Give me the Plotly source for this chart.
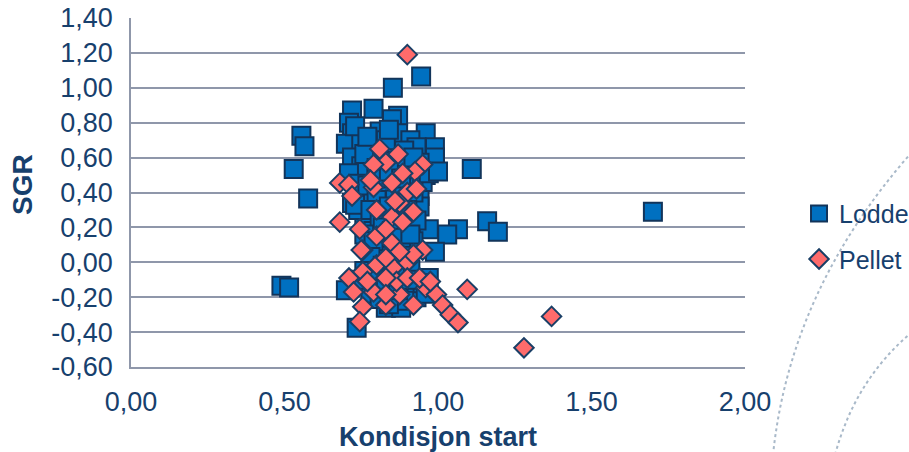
import plotly.graph_objects as go

# Lodde (blue squares)
lodde_x = [0.49, 0.515, 0.53, 0.555, 0.565, 0.577, 0.70, 0.735, 0.853, 0.945, 1.11, 1.16, 1.195, 1.065, 1.03, 1.70, 0.96, 0.99,
           0.72, 0.79, 0.87, 0.85, 0.71, 0.72, 0.81, 0.87, 0.91, 0.70, 0.75, 0.93, 0.99, 0.99, 0.72, 0.75, 0.85, 0.94, 0.71,
           0.78, 0.83, 0.89, 0.76, 0.82, 0.88, 0.96, 0.73, 0.77, 0.84, 0.92, 0.80, 0.86, 0.74,
           0.72, 0.97, 0.94, 0.81, 0.87, 0.94, 0.95, 0.97, 1.00, 0.78, 0.82, 0.88, 0.90, 0.76, 0.84, 0.79, 0.92, 0.86, 0.74, 0.73,
           0.77, 0.80, 0.83, 0.86, 0.89, 0.92, 0.78, 0.81, 0.84, 0.87, 0.90, 0.93, 0.76, 0.79, 0.82, 0.85, 0.88, 0.91, 0.80, 0.84, 0.88,
           0.83, 0.88, 0.97, 0.78, 0.99, 0.76, 0.80, 0.85, 0.90, 0.93, 0.87, 0.82, 0.95, 0.78, 0.89, 0.84, 0.74, 0.91, 0.96,
           0.79, 0.83, 0.87, 0.91, 0.81, 0.86]
lodde_y = [-0.135, -0.145, 0.535, 0.725, 0.665, 0.365, -0.16, -0.375, 1.00, 1.065, 0.535, 0.235, 0.175, 0.19, 0.16, 0.29, 0.74, 0.66,
           0.87, 0.88, 0.84, 0.82, 0.80, 0.74, 0.75, 0.74, 0.70, 0.68, 0.70, 0.66, 0.55, 0.60, 0.60, 0.55, 0.60, 0.57, 0.51,
           0.66, 0.70, 0.64, 0.62, 0.58, 0.55, 0.50, 0.78, 0.72, 0.76, 0.60, 0.54, 0.50, 0.45,
           0.34, 0.19, 0.38, 0.09, 0.09, 0.32, 0.46, 0.51, 0.52, 0.40, 0.35, 0.28, 0.20, 0.25, 0.14, 0.18, 0.12, 0.42, 0.30, 0.33,
           0.44, 0.38, 0.46, 0.36, 0.44, 0.40, 0.30, 0.26, 0.32, 0.22, 0.30, 0.24, 0.16, 0.12, 0.20, 0.18, 0.14, 0.16, 0.48, 0.52, 0.48,
           -0.26, -0.26, -0.09, 0.03, 0.06, -0.05, -0.12, -0.18, -0.15, -0.20, -0.08, -0.02, -0.12, -0.18, -0.22, -0.24, -0.10, -0.04, -0.18,
           -0.08, -0.14, -0.16, -0.10, -0.21, -0.06]

# Pellet (salmon diamonds)
pellet_x = [0.90, 0.81, 0.87, 0.83, 0.79, 0.95, 0.925, 0.885, 0.68, 0.71, 0.79, 0.85, 0.90, 0.80, 0.68, 0.745, 0.80, 0.85,
            0.885, 0.92, 0.875, 0.83, 0.755, 0.95, 0.85, 0.72, 0.75, 0.71, 0.755, 0.80, 0.855, 0.90, 0.92, 0.725, 0.755, 0.745,
            0.83, 0.79, 0.875, 0.92, 0.96, 0.995, 1.015, 1.04, 1.065, 1.095, 0.865, 0.83, 0.90, 0.94, 0.975, 0.77, 0.83,
            0.875, 0.83, 1.28, 1.37, 0.78, 0.93, 0.86]
pellet_y = [1.19, 0.65, 0.62, 0.57, 0.56, 0.56, 0.52, 0.51, 0.455, 0.445, 0.43, 0.455, 0.40, 0.30, 0.23, 0.19, 0.15, 0.26,
            0.23, 0.29, 0.34, 0.19, 0.07, 0.07, 0.11, 0.38, 0.07, -0.09, -0.055, -0.015, -0.03, 0.0, 0.045, -0.17, -0.255, -0.34,
            -0.245, -0.17, -0.185, -0.245, -0.145, -0.185, -0.245, -0.30, -0.345, -0.155, -0.11, -0.09, -0.09, -0.09, -0.11, -0.11, -0.185,
            0.06, 0.025, -0.49, -0.31, 0.47, 0.42, 0.35]

x_ticks = [0, 0.5, 1.0, 1.5, 2.0]
y_ticks = [-0.6, -0.4, -0.2, 0, 0.2, 0.4, 0.6, 0.8, 1.0, 1.2, 1.4]


def fmt(v):
    return f"{v:.2f}".replace(".", ",")


TXT = "#17406D"
GRID = "#8F97AA"
FONT = "Liberation Sans, Arial, sans-serif"

fig = go.Figure()
fig.add_trace(go.Scatter(
    x=lodde_x, y=lodde_y, mode="markers", name="Lodde", legendgroup="a",
    marker=dict(symbol="square", size=18, color="#0070C0", line=dict(color="#12345A", width=2)),
))
fig.add_trace(go.Scatter(
    x=pellet_x, y=pellet_y, mode="markers", name="Pellet", legendgroup="b",
    marker=dict(symbol="diamond", size=15, color="#FF6B6B", line=dict(color="#1A3F66", width=2)),
))

L, R, T, B = 131, 164, 18, 85
W, H = 909, 452
pw, ph = W - L - R, H - T - B


def px(x, y):
    return (x - L) / pw, (H - B - y) / ph


def arc(p0, c, p1):
    a, b, d = px(*p0), px(*c), px(*p1)
    return f"M {a[0]},{a[1]} Q {b[0]},{b[1]} {d[0]},{d[1]}"


for path in [arc((912, 152), (790, 290), (773, 455)), arc((912, 332), (855, 380), (835, 455))]:
    fig.add_shape(type="path", path=path, xref="paper", yref="paper",
                  line=dict(color="#A9B9C9", width=2, dash="dot"), layer="below")

sx, sy = px(22, 185)
fig.add_annotation(text="<b>SGR</b>", x=sx, y=sy, xref="paper", yref="paper", textangle=-90,
                   showarrow=False, xanchor="center", yanchor="middle", font=dict(size=28, color=TXT))

fig.update_layout(
    width=W, height=H,
    margin=dict(l=L, r=R, t=T, b=B, autoexpand=False),
    paper_bgcolor="white", plot_bgcolor="white",
    font=dict(family=FONT, color=TXT, size=26),
    showlegend=True,
    legend=dict(x=1.088, y=0.505, xanchor="left", yanchor="top", font=dict(size=25, color=TXT),
                tracegroupgap=10, bgcolor="rgba(0,0,0,0)", itemwidth=30),
    xaxis=dict(range=[0, 2], tickvals=x_ticks, ticktext=[fmt(v) for v in x_ticks], showgrid=False, zeroline=False,
               showline=True, linecolor=GRID, linewidth=1.5, automargin=False,
               ticks="outside", ticklen=10, tickcolor="rgba(0,0,0,0)", tickfont=dict(size=27),
               title=dict(text="<b>Kondisjon start</b>", font=dict(size=27, color=TXT), standoff=14)),
    yaxis=dict(range=[-0.6, 1.4], tickvals=y_ticks, ticktext=[fmt(v) for v in y_ticks], showgrid=True,
               gridcolor=GRID, gridwidth=1.5,
               zeroline=False, showline=True, linecolor=GRID, linewidth=1.5, automargin=False,
               ticks="outside", ticklen=11, tickcolor="rgba(0,0,0,0)", tickfont=dict(size=27)),
)

fig.write_html("out.html", config={"displayModeBar": False},
               post_script="document.body.style.margin='0';document.body.style.overflow='hidden';")
